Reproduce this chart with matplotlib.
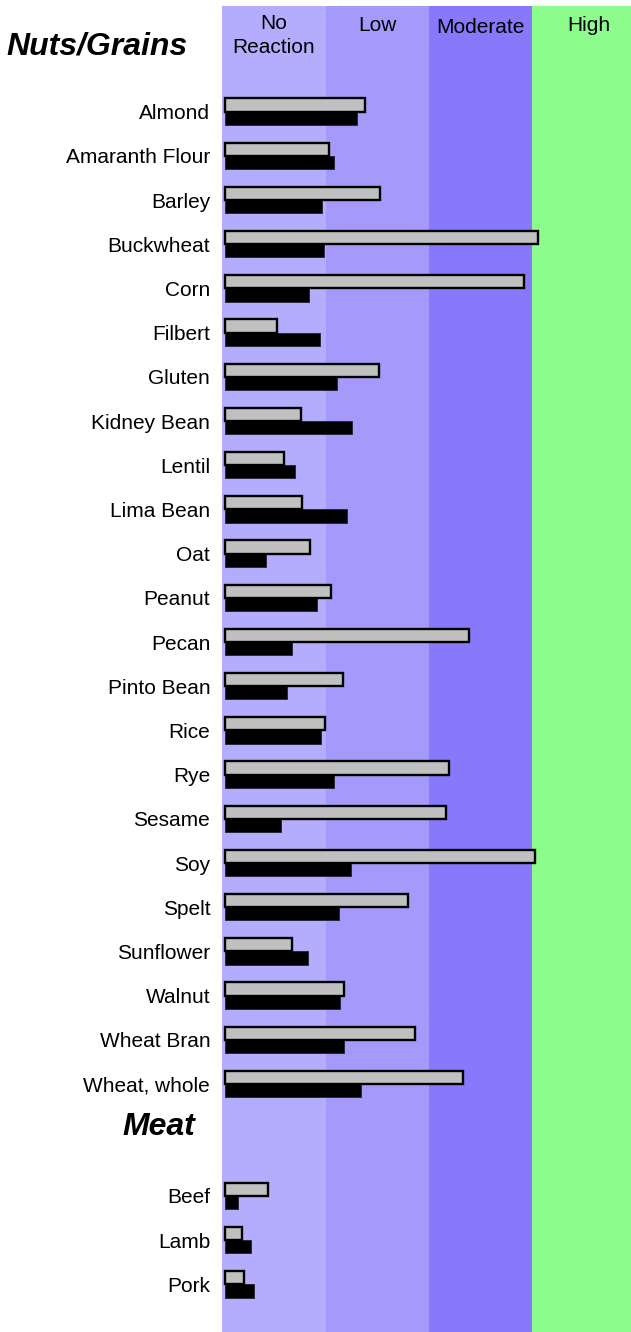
import matplotlib
matplotlib.use('Agg')
from matplotlib import pyplot as plt

plt.rcParams['font.family'] = ['Liberation Sans', 'DejaVu Sans']

# Foods, two sections
nuts = ['Almond', 'Amaranth Flour', 'Barley', 'Buckwheat', 'Corn', 'Filbert',
        'Gluten', 'Kidney Bean', 'Lentil', 'Lima Bean', 'Oat', 'Peanut',
        'Pecan', 'Pinto Bean', 'Rice', 'Rye', 'Sesame', 'Soy', 'Spelt',
        'Sunflower', 'Walnut', 'Wheat Bran', 'Wheat, whole']
meat = ['Beef', 'Lamb', 'Pork']

# values in reaction-band units (1 = width of one band)
nuts_gray = [1.36, 1.01, 1.50, 3.04, 2.90, 0.50, 1.49, 0.74, 0.57, 0.75,
             0.82, 1.03, 2.37, 1.14, 0.97, 2.17, 2.14, 3.01, 1.78, 0.65,
             1.15, 1.84, 2.31]
nuts_black = [1.28, 1.06, 0.94, 0.96, 0.81, 0.92, 1.09, 1.23, 0.68, 1.18,
              0.40, 0.89, 0.65, 0.60, 0.93, 1.06, 0.54, 1.22, 1.11, 0.80,
              1.12, 1.15, 1.32]
meat_gray = [0.42, 0.16, 0.18]
meat_black = [0.13, 0.25, 0.28]

levels = ['No\nReaction', 'Low', 'Moderate', 'High']
band_edges = [-0.03, 0.98, 1.98, 2.98, 4.1]
band_colors = ['#b4acfc', '#a59afc', '#8878fc', '#8cfc8c']

# row positions
nuts_pos = list(range(len(nuts)))
meat_start = 24.53
meat_pos = [meat_start + i for i in range(len(meat))]

fig = plt.figure(figsize=(6.31, 13.32), dpi=100)
ax = fig.add_axes([222 / 631, 0, 409 / 631, 1 - 6 / 1332])
ax.set_xlim(-0.03, 3.94)
ax.set_ylim(27.61, -2.39)

# background bands
for i in range(len(levels)):
    ax.axvspan(band_edges[i], band_edges[i + 1], color=band_colors[i], lw=0, zorder=0)

h = 0.3
pos = nuts_pos + meat_pos
gray = nuts_gray + meat_gray
black = nuts_black + meat_black
ax.barh([p + h / 2 for p in pos], black, height=h, color='black',
        edgecolor='#202030', linewidth=0.6, zorder=2)
ax.barh([p - h / 2 for p in pos], gray, height=h, color='#c0c0c0',
        edgecolor='black', linewidth=1.7, zorder=3)

ax.set_yticks(pos)
ax.set_yticklabels(nuts + meat, fontsize=15)
ax.tick_params(axis='y', length=0, pad=8.5)
ax.set_xticks([])
for s in ax.spines.values():
    s.set_visible(False)

# band titles
title_y = [-1.73, -1.94, -1.90, -1.94]
for i in range(len(levels)):
    xc = (band_edges[i] + min(band_edges[i + 1], 4.08)) / 2
    ax.text(xc, title_y[i], levels[i], ha='center', va='center', fontsize=15,
            linespacing=1.35)

# section headings
ax.text(-1.24, -1.47, 'Nuts/Grains', ha='center', va='center', fontsize=23,
        fontweight='bold', fontstyle='italic', clip_on=False)
ax.text(-0.64, 22.97, 'Meat', ha='center', va='center', fontsize=23,
        fontweight='bold', fontstyle='italic', clip_on=False)

fig.savefig('out.png', dpi=100)
